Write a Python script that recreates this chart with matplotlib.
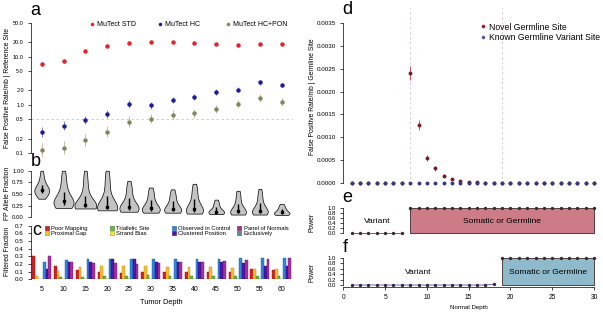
import numpy as np
import matplotlib
matplotlib.use("Agg")
import matplotlib.pyplot as plt
from matplotlib.lines import Line2D

plt.rcParams['font.family'] = ['Liberation Sans', 'DejaVu Sans']

# ---- data ----
tumor_depth = [5, 10, 15, 20, 25, 30, 35, 40, 45, 50, 55, 60]

fp_std = [6.9, 8.0, 13.0, 16.8, 19.4, 20.4, 19.8, 19.4, 18.0, 17.5, 18.5, 18.0]
fp_hc = [0.27, 0.37, 0.49, 0.65, 1.03, 0.97, 1.27, 1.47, 1.87, 2.06, 2.93, 2.57]
fp_pon = [0.118, 0.13, 0.185, 0.276, 0.45, 0.52, 0.63, 0.67, 0.82, 1.03, 1.37, 1.13]
err_std = [0.08, 0.07, 0.06, 0.06, 0.05, 0.05, 0.05, 0.05, 0.05, 0.05, 0.05, 0.05]
err_hc = [0.28, 0.25, 0.22, 0.22, 0.20, 0.18, 0.16, 0.15, 0.14, 0.13, 0.12, 0.12]
err_pon = [0.40, 0.38, 0.32, 0.30, 0.28, 0.26, 0.24, 0.23, 0.22, 0.20, 0.20, 0.22]
a_ticks = [0.1, 0.2, 0.5, 1.0, 2.0, 5.0, 10.0, 20.0, 50.0]
a_ticklabels = ['0.1', '0.2', '0.5', '1.0', '2.0', '5.0', '10.0', '20.0', '50.0']

# allele fractions of false positives, per tumor depth
af = [
    [0.40, 0.42, 0.44, 0.46, 0.48, 0.50, 0.51, 0.52, 0.53, 0.54, 0.55, 0.56, 0.57, 0.58, 0.59,
     0.60, 0.61, 0.62, 0.63, 0.64, 0.66, 0.68, 0.70, 0.73, 0.76, 0.80, 0.85, 0.90, 0.95, 1.00],
    [0.20, 0.21, 0.22, 0.23, 0.24, 0.25, 0.26, 0.27, 0.28, 0.29, 0.30, 0.31, 0.32, 0.33, 0.34,
     0.35, 0.37, 0.39, 0.41, 0.44, 0.47, 0.51, 0.55, 0.60, 0.66, 0.72, 0.79, 0.86, 0.93, 1.00],
    [0.19, 0.19, 0.20, 0.20, 0.20, 0.21, 0.21, 0.21, 0.22, 0.22, 0.22, 0.23, 0.23, 0.24, 0.25,
     0.26, 0.27, 0.29, 0.31, 0.34, 0.37, 0.41, 0.46, 0.52, 0.59, 0.66, 0.74, 0.82, 0.91, 1.00],
    [0.15, 0.15, 0.15, 0.16, 0.16, 0.16, 0.17, 0.17, 0.17, 0.18, 0.18, 0.19, 0.20, 0.21, 0.22,
     0.23, 0.25, 0.27, 0.30, 0.33, 0.37, 0.42, 0.48, 0.55, 0.62, 0.70, 0.78, 0.85, 0.93, 1.00],
    [0.12, 0.13, 0.13, 0.14, 0.14, 0.15, 0.15, 0.16, 0.16, 0.17, 0.17, 0.18, 0.19, 0.20, 0.21,
     0.22, 0.24, 0.26, 0.28, 0.31, 0.34, 0.38, 0.42, 0.47, 0.52, 0.57, 0.62, 0.67, 0.72, 0.78],
    [0.10, 0.11, 0.11, 0.12, 0.12, 0.13, 0.13, 0.14, 0.14, 0.15, 0.15, 0.16, 0.17, 0.18, 0.19,
     0.20, 0.22, 0.24, 0.26, 0.28, 0.31, 0.34, 0.37, 0.41, 0.45, 0.49, 0.53, 0.57, 0.60, 0.64],
    [0.10, 0.10, 0.11, 0.11, 0.12, 0.12, 0.13, 0.13, 0.14, 0.14, 0.15, 0.15, 0.16, 0.17, 0.18,
     0.19, 0.21, 0.23, 0.25, 0.27, 0.30, 0.33, 0.36, 0.39, 0.42, 0.46, 0.49, 0.53, 0.56, 0.60],
    [0.08, 0.09, 0.09, 0.10, 0.10, 0.11, 0.11, 0.12, 0.12, 0.13, 0.13, 0.14, 0.15, 0.16, 0.17,
     0.19, 0.21, 0.23, 0.26, 0.29, 0.32, 0.36, 0.40, 0.44, 0.49, 0.54, 0.59, 0.63, 0.68, 0.72],
    [0.07, 0.07, 0.08, 0.08, 0.08, 0.09, 0.09, 0.09, 0.10, 0.10, 0.10, 0.11, 0.11, 0.12, 0.12,
     0.13, 0.14, 0.15, 0.16, 0.17, 0.19, 0.21, 0.23, 0.25, 0.27, 0.29, 0.31, 0.33, 0.36, 0.38],
    [0.06, 0.07, 0.07, 0.07, 0.08, 0.08, 0.08, 0.09, 0.09, 0.10, 0.10, 0.11, 0.11, 0.12, 0.13,
     0.14, 0.15, 0.17, 0.19, 0.21, 0.24, 0.27, 0.30, 0.34, 0.38, 0.42, 0.46, 0.50, 0.54, 0.57],
    [0.06, 0.07, 0.07, 0.08, 0.08, 0.08, 0.09, 0.09, 0.10, 0.10, 0.11, 0.11, 0.12, 0.13, 0.14,
     0.15, 0.16, 0.18, 0.20, 0.22, 0.25, 0.28, 0.32, 0.36, 0.40, 0.44, 0.48, 0.52, 0.57, 0.61],
    [0.05, 0.06, 0.06, 0.06, 0.07, 0.07, 0.07, 0.07, 0.08, 0.08, 0.08, 0.09, 0.09, 0.10, 0.10,
     0.11, 0.12, 0.13, 0.14, 0.15, 0.16, 0.17, 0.18, 0.20, 0.21, 0.23, 0.24, 0.26, 0.27, 0.29],
]
violin_widths = [3.4, 4.6, 5.0, 4.6, 4.4, 4.1, 3.9, 3.9, 3.6, 3.6, 3.6, 3.6]

filters = ['Poor Mapping', 'Proximal Gap', 'Triallelic Site', 'Strand Bias',
           'Observed in Control', 'Clustered Position', 'Panel of Normals', 'Exclusively']
poor_mapping = [0.30, 0.18, 0.12, 0.10, 0.08, 0.09, 0.09, 0.09, 0.09, 0.10, 0.13, 0.12]
proximal_gap = [0.04, 0.11, 0.16, 0.17, 0.18, 0.17, 0.16, 0.16, 0.16, 0.15, 0.13, 0.13]
triallelic = [0.00, 0.03, 0.03, 0.04, 0.04, 0.05, 0.04, 0.04, 0.04, 0.04, 0.04, 0.04]
strand_bias = [0.00, 0.00, 0.00, 0.00, 0.00, 0.00, 0.00, 0.00, 0.00, 0.00, 0.00, 0.00]
observed_ctrl = [0.22, 0.25, 0.26, 0.26, 0.27, 0.27, 0.27, 0.27, 0.27, 0.28, 0.28, 0.28]
clustered = [0.13, 0.22, 0.22, 0.27, 0.26, 0.22, 0.22, 0.23, 0.22, 0.21, 0.18, 0.18]
panel_normals = [0.30, 0.23, 0.21, 0.21, 0.20, 0.21, 0.23, 0.23, 0.24, 0.25, 0.27, 0.28]

normal_depth = list(range(1, 31))
novel_fp = [0, 0, 0, 0, 0, 0, 0, 0.00241, 0.00126, 0.000544, 0.000316, 0.000154, 0.000074,
            0.000044, 0.000015, 0.000008, 0.000004, 0.000002, 0, 0, 0, 0, 0, 0, 0, 0, 0, 0, 0, 0]
novel_err = [0, 0, 0, 0, 0, 0, 0, 0.00015, 0.00011, 0.00007, 0.00005, 0.00003, 0.00002,
             0.00001, 0, 0, 0, 0, 0, 0, 0, 0, 0, 0, 0, 0, 0, 0, 0, 0]
known_fp = [0] * 30
power_e = [0, 0, 0, 0, 0, 0, 0, 1, 1, 1, 1, 1, 1, 1, 1, 1, 1, 1, 1, 1, 1, 1, 1, 1, 1, 1, 1, 1, 1, 1]
power_f = [0, 0, 0, 0, 0, 0, 0, 0, 0, 0, 0, 0, 0, 0, 0, 0, 0, 0.03, 1, 1, 1, 1, 1, 1, 1, 1, 1, 1, 1, 1]

# ---- layout helpers (pixel coords of the 603x317 canvas) ----
W, H = 603, 317


def rect(l, t, r, b):
    return [l / W, 1 - b / H, (r - l) / W, (b - t) / H]


def ftext(x, y, s, **kw):
    fig.text(x / W, 1 - y / H, s, **kw)


def r_style(ax, fs=4.5, pad=3):
    for s in ['top', 'right', 'bottom']:
        ax.spines[s].set_visible(False)
    ax.spines['left'].set_linewidth(0.5)
    ax.tick_params(axis='y', length=2, width=0.5, labelsize=fs, pad=pad)
    ax.tick_params(axis='x', bottom=False, labelbottom=False)


def legend_col(x, y, labels, colors, marker, fs, ms, edges=None, spacing=0.0):
    handles = []
    for i, c in enumerate(colors):
        ec = edges[i] if edges else c
        handles.append(Line2D([], [], ls='none', marker=marker, markerfacecolor=c,
                              markeredgecolor=ec, markeredgewidth=0.4, markersize=ms))
    x0 = x - 0.4 * fs * 100 / 72
    fig.legend(handles, labels, loc='upper left', bbox_to_anchor=(x0 / W, 1 - y / H),
               frameon=False, fontsize=fs, handlelength=0.8, handletextpad=0.35,
               borderpad=0, borderaxespad=0, labelspacing=spacing)


fig = plt.figure(figsize=(6.03, 3.17), dpi=100)

c_std, c_hc, c_pon = '#e8202c', '#1c1ca0', '#85855a'

# ---- a ----
ax_a = fig.add_axes(rect(30.8, 19.2, 292.6, 157.7))
ax_a.set_yscale('log')
ax_a.set_xlim(2.5, 62.5)
ax_a.set_ylim(0.08, 60)
ax_a.axhline(0.5, color='#c8c8c8', lw=0.6, ls=(0, (3, 3)))
for vals, errs, col in [(fp_std, err_std, c_std), (fp_hc, err_hc, c_hc), (fp_pon, err_pon, c_pon)]:
    v = np.array(vals)
    e = np.array(errs)
    yerr = [v - v / (1 + e), v * e]
    ax_a.errorbar(tumor_depth, v, yerr=yerr, fmt='none', ecolor=col, alpha=0.55, elinewidth=0.7)
    ax_a.plot(tumor_depth, v, ls='none', marker='o', ms=2.2, color=col)
ax_a.yaxis.set_major_locator(matplotlib.ticker.FixedLocator(a_ticks))
ax_a.yaxis.set_minor_locator(matplotlib.ticker.NullLocator())
ax_a.set_yticklabels(a_ticklabels)
ax_a.spines['left'].set_bounds(0.1, 50)
r_style(ax_a, fs=4.0, pad=3)
legend_col(92, 21, ['MuTect STD'], [c_std], 'o', 5.0, 2.2)
legend_col(160, 21, ['MuTect HC'], [c_hc], 'o', 5.0, 2.2)
legend_col(228, 21, ['MuTect HC+PON'], [c_pon], 'o', 5.0, 2.2)

# ---- b ----
ax_b = fig.add_axes(rect(30.8, 169.8, 292.6, 217.8))
ax_b.set_xlim(2.5, 62.5)
ax_b.set_ylim(-0.01, 1.02)
parts = ax_b.violinplot(af, positions=tumor_depth, widths=violin_widths,
                        showextrema=False, bw_method=0.6)
for body in parts['bodies']:
    body.set_facecolor('#c4c4c4')
    body.set_edgecolor('black')
    body.set_linewidth(0.5)
    body.set_alpha(1)
q1 = [np.percentile(d, 25) for d in af]
q3 = [np.percentile(d, 75) for d in af]
med = [np.median(d) for d in af]
ax_b.vlines(tumor_depth, q1, q3, color='black', lw=1.0)
ax_b.plot(tumor_depth, med, ls='none', marker='s', ms=1.8, color='black')
ax_b.set_yticks([0, 0.25, 0.5, 0.75, 1.0])
ax_b.set_yticklabels(['0.00', '0.25', '0.50', '0.75', '1.00'])
ax_b.spines['left'].set_bounds(0, 1)
r_style(ax_b, fs=4.3, pad=3)

# ---- c ----
ax_c = fig.add_axes(rect(30.8, 225.7, 292.6, 279.3))
ax_c.set_xlim(2.5, 62.5)
ax_c.set_ylim(0, 0.7)
bar_series = [poor_mapping, proximal_gap, triallelic, strand_bias, observed_ctrl, clustered, panel_normals]
bar_colors = ['#d42028', '#f2c232', '#6cb840', '#f0ea40', '#2e88dc', '#4a18b0', '#a8309c', '#5f8c8c']
bar_edges = ['#8a1010', '#d07810', '#3a7a20', '#b0a010', '#1a5aa0', '#2a0a70', '#6a1060', '#3a5a5a']
x = np.array(tumor_depth, dtype=float)
bw = 0.62
for i, vals in enumerate(bar_series):
    ax_c.bar(x + (i - 3) * bw, vals, width=bw, color=bar_colors[i],
             edgecolor=bar_edges[i], linewidth=0.3)
r_style(ax_c, fs=4.5, pad=3)
ax_c.set_yticks([0, 0.1, 0.2, 0.3, 0.4, 0.5, 0.6, 0.7])
ax_c.set_yticklabels(['0.0', '0.1', '0.2', '0.3', '0.4', '0.5', '0.6', '0.7'])
ax_c.tick_params(axis='x', labelbottom=True, length=0, labelsize=5.0, pad=5)
ax_c.set_xticks(tumor_depth)
ax_c.set_xticklabels([str(t) for t in tumor_depth])
for k, cx in enumerate([46.7, 111.7, 174, 239.3]):
    legend_col(cx, 226, filters[2 * k:2 * k + 2], bar_colors[2 * k:2 * k + 2], 's', 4.2, 3.0,
               edges=bar_edges[2 * k:2 * k + 2], spacing=0.05)

# ---- d ----
ax_d = fig.add_axes(rect(343.3, 8, 594, 184.1))
ax_d.set_xlim(0, 30)
ax_d.set_ylim(-0.00003, 0.00384)
for xv in [8, 19]:
    ax_d.axvline(xv, color='#d8c8c8', lw=0.6, ls=(0, (3, 3)))
ax_d.errorbar(normal_depth, novel_fp, yerr=novel_err, fmt='none', ecolor='#d04a5a', elinewidth=0.7)
ax_d.plot(normal_depth, novel_fp, ls='none', marker='o', ms=1.8, color='#7a1c28', clip_on=False)
ax_d.plot(normal_depth, known_fp, ls='none', marker='o', ms=1.8, color='#3a3a72', clip_on=False)
ax_d.set_yticks([0, 0.0005, 0.001, 0.0015, 0.002, 0.0025, 0.003, 0.0035])
ax_d.set_yticklabels(['0.0000', '0.0005', '0.0010', '0.0015', '0.0020', '0.0025', '0.0030', '0.0035'])
ax_d.spines['left'].set_bounds(0, 0.0035)
r_style(ax_d, fs=4.5, pad=3.5)
legend_col(482.7, 22.5, ['Novel Germline Site', 'Known Germline Variant Site'],
           ['#9a1c2a', '#5a5a9a'], 'o', 6.2, 2.2, spacing=0.15)

# ---- e / f ----
for (t, b, ylo, power, fill, line, txts) in [
        (208, 234.3, -0.04, power_e, '#cd7b86', '#d04050',
         [(4, 'Variant'), (19, 'Somatic or Germline')]),
        (257.7, 287.2, -0.08, power_f, '#8fbacb', '#5a6ab8',
         [(9, 'Variant'), (24.5, 'Somatic or Germline')])]:
    ax = fig.add_axes(rect(343.3, t, 594, b))
    ax.set_xlim(0, 30)
    ax.set_ylim(ylo, 1.0)
    p = np.array(power)
    nd = np.array(normal_depth)
    hi = p >= 0.5
    ax.fill_between(nd[hi], 0, p[hi], facecolor=fill, edgecolor='#3a2a2a', lw=0.6, clip_on=False)
    ax.plot(nd[~hi], p[~hi], color=line, lw=0.7, clip_on=False)
    ax.plot(nd, p, ls='none', marker='o', ms=1.4, color='#3a2a30', clip_on=False)
    for xv, s in txts:
        ax.text(xv, 0.45, s, ha='center', va='center', fontsize=6.1)
    ax.set_yticks([0, 0.2, 0.4, 0.6, 0.8, 1.0])
    ax.set_yticklabels(['0.0', '0.2', '0.4', '0.6', '0.8', '1.0'])
    ax.spines['left'].set_bounds(0, 1)
    r_style(ax, fs=4.3, pad=3.5)
ax_f = ax
ax_f.spines['bottom'].set_visible(True)
ax_f.spines['bottom'].set_linewidth(0.5)
ax_f.spines['bottom'].set_bounds(0, 30)
ax_f.set_xticks([0, 5, 10, 15, 20, 25, 30])
ax_f.tick_params(axis='x', bottom=True, labelbottom=True, length=2, width=0.5, labelsize=4.8, pad=3)

# ---- labels ----
ftext(8, 88, 'False Positive Rate/mb | Reference Site', rotation=90, ha='center', va='center', fontsize=4.9)
ftext(8, 193, 'FP Allele Fraction', rotation=90, ha='center', va='center', fontsize=4.9)
ftext(8, 251, 'Filtered Fraction', rotation=90, ha='center', va='center', fontsize=4.9)
ftext(313, 97, 'False Positive Rate/mb | Germline Site', rotation=90, ha='center', va='center', fontsize=4.9)
ftext(312, 222, 'Power', rotation=90, ha='center', va='center', fontsize=4.9)
ftext(312, 272, 'Power', rotation=90, ha='center', va='center', fontsize=4.9)
ftext(161.7, 303, 'Tumor Depth', ha='center', va='center', fontsize=5.3)
ftext(469, 307, 'Normal Depth', ha='center', va='center', fontsize=4.4)

for x0, y0, s in [(30, 15, 'a'), (31, 166.5, 'b'), (32, 235, 'c'),
                  (342, 14, 'd'), (342, 202.5, 'e'), (343, 251.5, 'f')]:
    ftext(x0, y0, s, ha='left', va='baseline', fontsize=13)

fig.savefig('out.png', dpi=100)
